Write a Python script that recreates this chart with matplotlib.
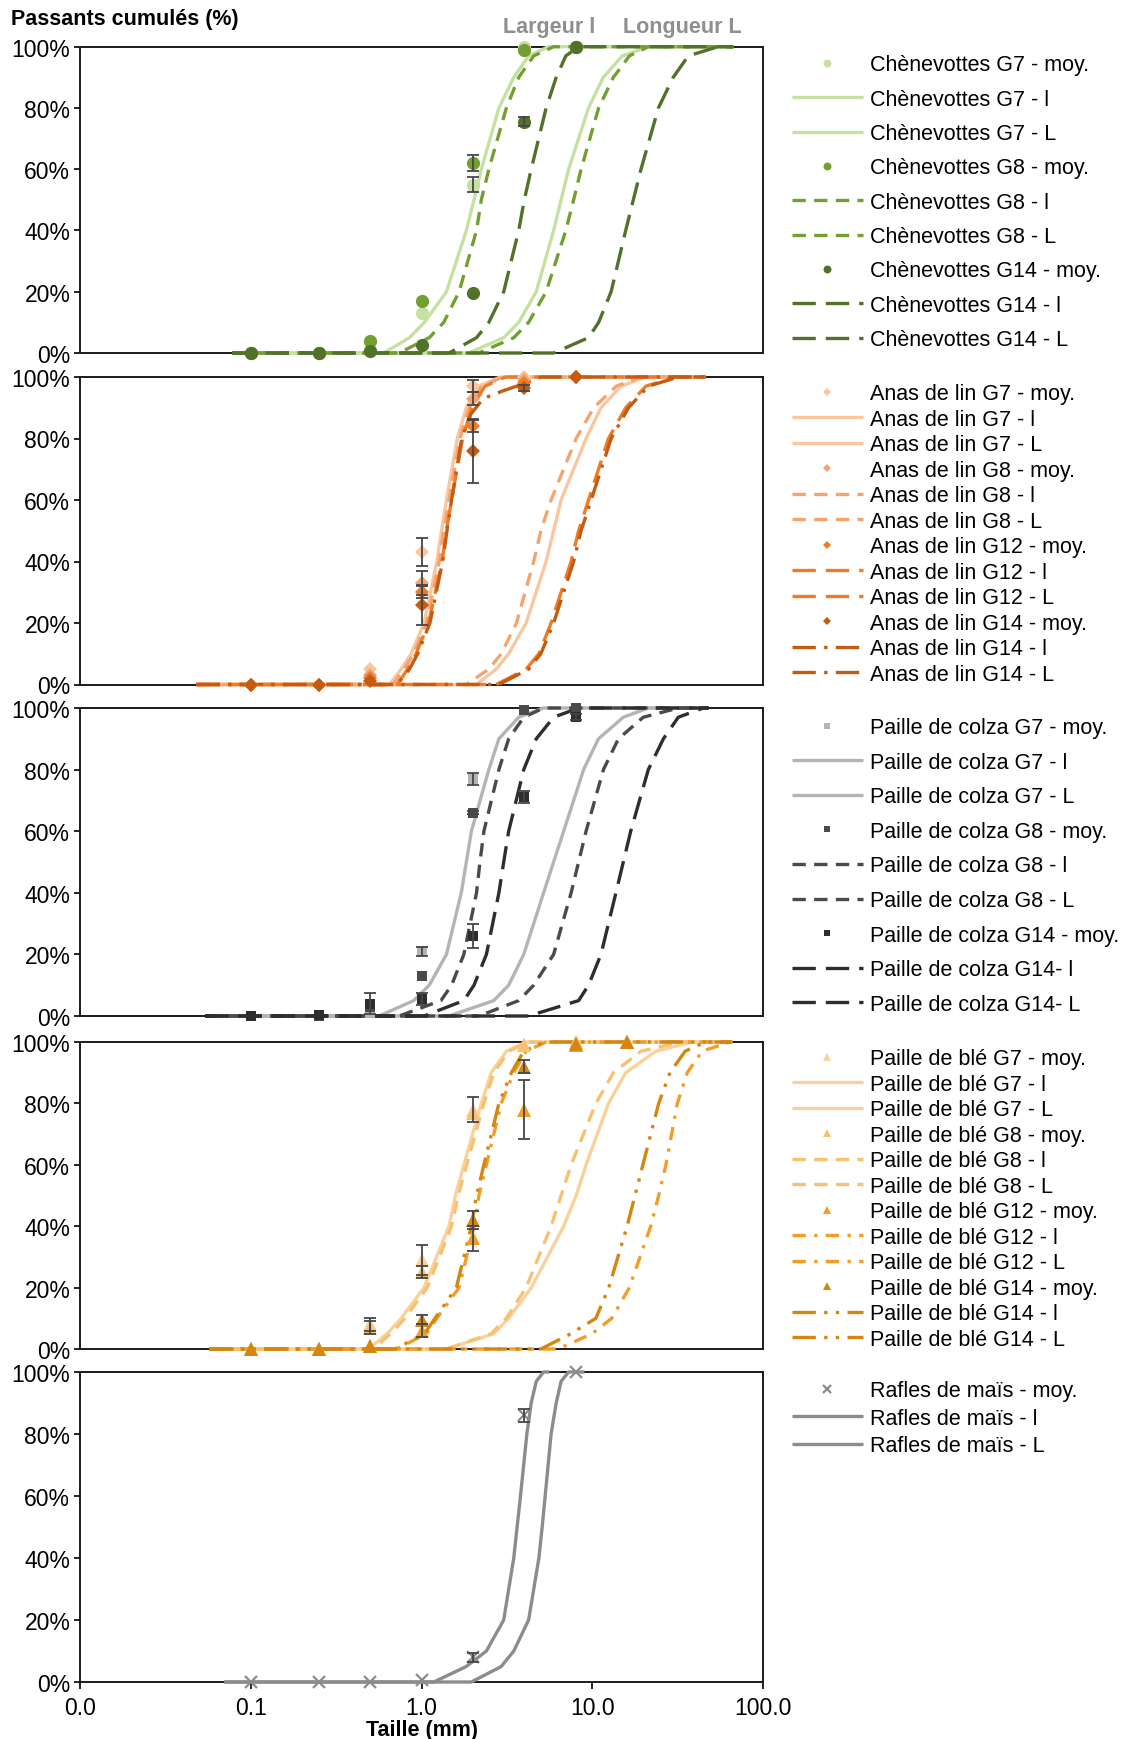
import matplotlib
matplotlib.use("Agg")
import matplotlib.pyplot as plt
from matplotlib.ticker import FixedLocator, FuncFormatter, NullLocator

plt.rcParams['font.family'] = ['Liberation Sans', 'DejaVu Sans']
plt.rcParams['font.size'] = 15

# sieve openings (mm) used for the measured means
SIEVE = [0.1, 0.25, 0.5, 1, 2, 4, 8]
SIEVE_BLE = [0.1, 0.25, 0.5, 1, 2, 4, 8, 16]
# passing levels (%) (first / last = flat ends)
CUM_Y = [0, 0, 5, 10, 20, 40, 50, 60, 80, 90, 97, 100, 100]

# ---- Chènevottes
chen_g7_moy = [0, 0, 1, 13, 55, 100, 100]
chen_g7_err = [0, 0, 0, 0, 2.5, 0, 0]
chen_g8_moy = [0, 0, 4, 17, 62, 99, 100]
chen_g8_err = [0, 0, 0, 0, 2.5, 0, 0]
chen_g14_moy = [0, 0, 0.5, 2.5, 19.5, 75.5, 100]
chen_g14_err = [0, 0, 0, 0, 0, 1.5, 0]
chen_g7_l = [0.078, 0.60, 0.85, 1.04, 1.40, 1.83, 2.03, 2.24, 2.84, 3.47, 4.24, 5.55, 67]
chen_g8_l = [0.078, 0.74, 1.11, 1.35, 1.66, 2.10, 2.24, 2.48, 3.14, 3.71, 4.54, 5.94, 67]
chen_g14_l = [0.078, 1.45, 2.10, 2.48, 3.03, 3.71, 4.00, 4.39, 5.37, 6.15, 7.00, 8.32, 67]
chen_g7_L = [0.078, 1.89, 3.03, 3.71, 4.70, 5.94, 6.57, 7.27, 9.51, 11.6, 15.0, 21.3, 67]
chen_g8_L = [0.078, 2.17, 3.47, 4.24, 5.37, 7.00, 7.78, 8.60, 10.9, 13.3, 16.5, 21.3, 67]
chen_g14_L = [0.078, 5.94, 9.51, 10.9, 12.9, 15.7, 17.4, 19.3, 24.4, 29.8, 36.5, 54.6, 67]

# ---- Anas de lin
anas_g7_moy = [0, 0, 5, 43, 97, 100, 100]
anas_g7_err = [0, 0, 0, 4.5, 2, 0, 0]
anas_g8_moy = [0, 0, 3, 33, 93, 99, 100]
anas_g8_err = [0, 0, 0, 4, 2, 0, 0]
anas_g12_moy = [0, 0, 2, 30, 84, 98, 100]
anas_g12_err = [0, 0, 0, 2, 2, 0, 0]
anas_g14_moy = [0, 0, 1, 26, 76, 96.5, 100]
anas_g14_err = [0, 0, 0, 6.5, 10.5, 1, 0]
anas_g7_l = [0.048, 0.65, 0.76, 0.87, 1.035, 1.23, 1.31, 1.40, 1.62, 1.83, 2.15, 2.9, 46]
anas_g8_l = [0.048, 0.68, 0.79, 0.90, 1.07, 1.27, 1.35, 1.45, 1.68, 1.90, 2.25, 3.0, 46]
anas_g12_l = [0.048, 0.72, 0.83, 0.93, 1.10, 1.32, 1.40, 1.50, 1.74, 1.97, 2.35, 3.1, 46]
anas_g14_l_y = [0, 0, 5, 10, 20, 40, 50, 60, 80, 88, 93, 95.5, 97, 100, 100]
anas_g14_l = [0.048, 0.72, 0.85, 0.95, 1.12, 1.33, 1.41, 1.50, 1.72, 1.95, 2.3, 3.0, 3.6, 5.0, 46]
anas_g7_L = [0.048, 2.10, 2.74, 3.24, 4.10, 5.37, 5.94, 6.57, 9.2, 11.25, 14.7, 20.6, 46]
anas_g8_L = [0.048, 1.83, 2.48, 2.93, 3.60, 4.54, 5.00, 5.74, 8.05, 10.2, 13.8, 19.3, 46]
anas_g12_L = [0.048, 2.74, 4.10, 4.87, 5.74, 7.52, 8.32, 9.51, 12.45, 15.7, 20.6, 30.8, 46]
anas_g14_L = [0.048, 2.84, 4.24, 5.00, 5.94, 7.78, 8.60, 9.85, 12.9, 16.3, 21.3, 31.9, 46]

# ---- Paille de colza
colza_g7_moy = [0, 0, 1, 21, 77, 99, 100]
colza_g7_err = [0, 0, 0, 1.5, 2, 0, 0]
colza_g8_moy = [0, 0, 3, 13, 66, 99.5, 100]
colza_g8_err = [0, 0, 0, 0, 0.5, 0, 0]
colza_g14_moy = [0, 0.3, 4, 5.5, 26, 71, 97]
colza_g14_err = [0, 0, 3.5, 2, 4, 2, 1]
colza_g7_l = [0.054, 0.565, 0.90, 1.11, 1.40, 1.71, 1.83, 1.96, 2.48, 2.84, 3.71, 5.19, 48]
colza_g8_l = [0.054, 0.74, 1.30, 1.50, 1.77, 2.10, 2.20, 2.32, 2.84, 3.24, 3.97, 5.19, 48]
colza_g14_l = [0.054, 1.035, 1.77, 2.03, 2.40, 2.84, 3.03, 3.24, 3.97, 4.70, 5.94, 8.32, 48]
colza_g7_L = [0.054, 1.45, 2.65, 3.24, 3.97, 5.19, 5.94, 6.80, 8.90, 10.87, 15.2, 21.3, 48]
colza_g8_L = [0.054, 2.17, 3.71, 4.54, 5.94, 7.52, 8.32, 9.20, 11.63, 14.23, 19.9, 31.9, 48]
colza_g14_L = [0.054, 4.24, 8.32, 9.51, 11.25, 13.76, 15.2, 16.8, 21.3, 26.1, 31.9, 44.7, 48]

# ---- Paille de blé
ble_g7_moy = [0, 0, 8, 29, 78, 99, 100, 100]
ble_g7_err = [0, 0, 2, 5, 4, 0, 0, 0]
ble_g8_moy = [0, 0, 7, 25, 77, 99, 100, 100]
ble_g8_err = [0, 0, 2, 2, 0, 0, 0, 0]
ble_g12_moy = [0, 0, 1, 6, 36, 78, 99, 100]
ble_g12_err = [0, 0, 0, 2, 4, 9.5, 0, 0]
ble_g14_moy = [0, 0, 1, 9.5, 42, 92, 99.5, 100]
ble_g14_err = [0, 0, 0, 1.5, 3, 2, 0, 0]
ble_g7_l = [0.057, 0.49, 0.63, 0.76, 1.035, 1.45, 1.58, 1.77, 2.24, 2.56, 3.14, 4.1, 66]
ble_g8_l = [0.057, 0.52, 0.66, 0.80, 1.08, 1.50, 1.64, 1.84, 2.32, 2.65, 3.24, 4.24, 66]
ble_g12_l = [0.057, 0.715, 1.07, 1.23, 1.66, 2.03, 2.17, 2.40, 2.93, 3.47, 4.1, 5.37, 66]
ble_g14_l = [0.057, 0.70, 1.04, 1.20, 1.60, 1.96, 2.10, 2.32, 2.84, 3.36, 3.97, 5.2, 66]
ble_g7_L = [0.057, 1.40, 2.65, 3.24, 4.40, 6.80, 8.05, 9.20, 12.45, 15.7, 23.6, 38.5, 66]
ble_g8_L = [0.057, 1.40, 2.56, 3.14, 4.10, 5.74, 6.57, 7.52, 10.5, 13.3, 19.3, 33.0, 66]
ble_g12_L = [0.057, 6.30, 10.0, 13.0, 16.5, 22.0, 24.5, 27.0, 31.5, 36.0, 44.0, 64.0, 66]
ble_g14_L = [0.057, 5.00, 7.50, 10.5, 12.5, 16.0, 17.8, 19.8, 24.5, 28.5, 35.0, 46.0, 66]

# ---- Rafles de maïs
mais_moy = [0, 0, 0, 0.5, 8, 86, 100]
mais_err = [0, 0, 0, 0, 1.5, 2, 0]
mais_l = [0.07, 1.18, 1.83, 2.40, 3.03, 3.47, 3.63, 3.80, 4.14, 4.39, 4.70, 5.19, 5.6]
mais_L = [0.07, 1.96, 2.93, 3.47, 4.24, 4.87, 5.09, 5.30, 5.74, 6.15, 6.57, 7.27, 9.0]

SOLID = None
DASH = (4, 2.5)
LONG = (7, 3)
DASHDOT = (4, 2.5, 1, 2.5)
LONGDOT = (7, 2.5, 1, 2.5)
LONGDOTDOT = (7, 2.5, 1, 2.5, 1, 2.5)


def grp(name, color, sieve, moy, err, lx, ly, Lx, Ly, dashes, sep=" - "):
    return dict(labels=(name + " - moy.", name + sep + "l", name + sep + "L"),
                color=color, sieve=sieve, moy=moy, err=err,
                lx=lx, ly=ly, Lx=Lx, Ly=Ly, dashes=dashes)


panels = [
    dict(marker="o", ms=9.5, mew=0, spacing=0.62, legy=0.975, groups=[
        grp("Chènevottes G7", "#c5e0a0", SIEVE, chen_g7_moy, chen_g7_err, chen_g7_l, CUM_Y, chen_g7_L, CUM_Y, SOLID),
        grp("Chènevottes G8", "#72a030", SIEVE, chen_g8_moy, chen_g8_err, chen_g8_l, CUM_Y, chen_g8_L, CUM_Y, DASH),
        grp("Chènevottes G14", "#52722a", SIEVE, chen_g14_moy, chen_g14_err, chen_g14_l, CUM_Y, chen_g14_L, CUM_Y, LONG),
    ]),
    dict(marker="D", ms=7, mew=0, spacing=0.21, legy=0.98, groups=[
        grp("Anas de lin G7", "#f9c6a0", SIEVE, anas_g7_moy, anas_g7_err, anas_g7_l, CUM_Y, anas_g7_L, CUM_Y, SOLID),
        grp("Anas de lin G8", "#f4a46e", SIEVE, anas_g8_moy, anas_g8_err, anas_g8_l, CUM_Y, anas_g8_L, CUM_Y, DASH),
        grp("Anas de lin G12", "#ee7b26", SIEVE, anas_g12_moy, anas_g12_err, anas_g12_l, CUM_Y, anas_g12_L, CUM_Y, LONG),
        grp("Anas de lin G14", "#c55a11", SIEVE, anas_g14_moy, anas_g14_err, anas_g14_l, anas_g14_l_y, anas_g14_L, CUM_Y, LONGDOT),
    ]),
    dict(marker="s", ms=7, mew=0, spacing=0.63, legy=0.97, groups=[
        grp("Paille de colza G7", "#b4b4b4", SIEVE, colza_g7_moy, colza_g7_err, colza_g7_l, CUM_Y, colza_g7_L, CUM_Y, SOLID),
        grp("Paille de colza G8", "#4a4a4a", SIEVE, colza_g8_moy, colza_g8_err, colza_g8_l, CUM_Y, colza_g8_L, CUM_Y, DASH),
        grp("Paille de colza G14", "#2e2e2e", SIEVE, colza_g14_moy, colza_g14_err, colza_g14_l, CUM_Y, colza_g14_L, CUM_Y, LONG, sep="- "),
    ]),
    dict(marker="^", ms=9.5, mew=0, spacing=0.21, legy=0.98, groups=[
        grp("Paille de blé G7", "#f9d19a", SIEVE_BLE, ble_g7_moy, ble_g7_err, ble_g7_l, CUM_Y, ble_g7_L, CUM_Y, SOLID),
        grp("Paille de blé G8", "#f6c272", SIEVE_BLE, ble_g8_moy, ble_g8_err, ble_g8_l, CUM_Y, ble_g8_L, CUM_Y, DASH),
        grp("Paille de blé G12", "#f39c26", SIEVE_BLE, ble_g12_moy, ble_g12_err, ble_g12_l, CUM_Y, ble_g12_L, CUM_Y, DASHDOT),
        grp("Paille de blé G14", "#d4860e", SIEVE_BLE, ble_g14_moy, ble_g14_err, ble_g14_l, CUM_Y, ble_g14_L, CUM_Y, LONGDOTDOT),
    ]),
    dict(marker="x", ms=9, mew=1.6, spacing=0.31, legy=0.974, groups=[
        grp("Rafles de maïs", "#8c8c8c", SIEVE, mais_moy, mais_err, mais_l, CUM_Y, mais_L, CUM_Y, SOLID),
    ]),
]

# axes boxes in pixels (top, bottom) of a 1127 x 1740 canvas
W, H = 1127, 1740
X0, X1 = 80, 763
boxes = [(47.7, 354), (378, 685.5), (709, 1017), (1043, 1350), (1373, 1683)]

fig = plt.figure(figsize=(W / 100, H / 100), dpi=100)

for i, (p, (top, bot)) in enumerate(zip(panels, boxes)):
    ax = fig.add_axes([X0 / W, 1 - bot / H, (X1 - X0) / W, (bot - top) / H])
    for g in p["groups"]:
        c = g["color"]
        ax.plot(g["sieve"], g["moy"], linestyle="none", marker=p["marker"], ms=p["ms"],
                color=c, mec=c, mew=p["mew"], label=g["labels"][0], zorder=5, clip_on=False)
        ex = [x for x, e in zip(g["sieve"], g["err"]) if e > 0]
        ey = [y for y, e in zip(g["moy"], g["err"]) if e > 0]
        ee = [e for e in g["err"] if e > 0]
        if ee:
            ax.errorbar(ex, ey, yerr=ee, fmt="none", ecolor="#45464a", elinewidth=1.3,
                        capsize=4.5, capthick=1.3, zorder=6, clip_on=False)
        for xs, ys, lab in ((g["lx"], g["ly"], g["labels"][1]), (g["Lx"], g["Ly"], g["labels"][2])):
            ln, = ax.plot(xs, ys, color=c, lw=2.4, label=lab, zorder=4, clip_on=False,
                          solid_capstyle="butt", dash_capstyle="butt")
            if g["dashes"] is not None:
                ln.set_dashes(g["dashes"])

    ax.set_xscale("log")
    ax.set_xlim(0.01, 100)
    ax.set_ylim(0, 100)
    ax.yaxis.set_major_locator(FixedLocator([0, 20, 40, 60, 80, 100]))
    ax.yaxis.set_major_formatter(FuncFormatter(lambda v, pos: f"{int(v)}%"))
    ax.xaxis.set_major_locator(FixedLocator([0.01, 0.1, 1, 10, 100]))
    ax.xaxis.set_minor_locator(NullLocator())
    ax.tick_params(axis="y", direction="out", length=4, width=1.2, labelsize=16.5, pad=3)
    if i == len(panels) - 1:
        ax.xaxis.set_major_formatter(FuncFormatter(lambda v, pos: f"{v:.1f}"))
        ax.tick_params(axis="x", direction="out", length=5, width=1.2, labelsize=16.5, pad=5)
        ax.set_xlabel("Taille (mm)", fontsize=15.5, fontweight="bold", labelpad=0)
    else:
        ax.tick_params(axis="x", length=0, labelbottom=False)
    for sp in ax.spines.values():
        sp.set_linewidth(1.4)
        sp.set_color("#1a1a1a")

    ax.legend(loc="upper left", bbox_to_anchor=(1.042, p["legy"]), frameon=False,
              fontsize=15.5, borderpad=0, borderaxespad=0, handlelength=3.3,
              handletextpad=0.35, labelspacing=p["spacing"], markerscale=0.6, numpoints=1)

fig.text(11 / W, 1 - 19 / H, "Passants cumulés (%)", fontsize=15.5, fontweight="bold",
         ha="left", va="center")
fig.text(549 / W, 1 - 28 / H, "Largeur l", fontsize=15.5, fontweight="bold",
         color="#8f8f8f", ha="center", va="center")
fig.text(682 / W, 1 - 28 / H, "Longueur L", fontsize=15.5, fontweight="bold",
         color="#8f8f8f", ha="center", va="center")

fig.savefig("out.png", dpi=100)
